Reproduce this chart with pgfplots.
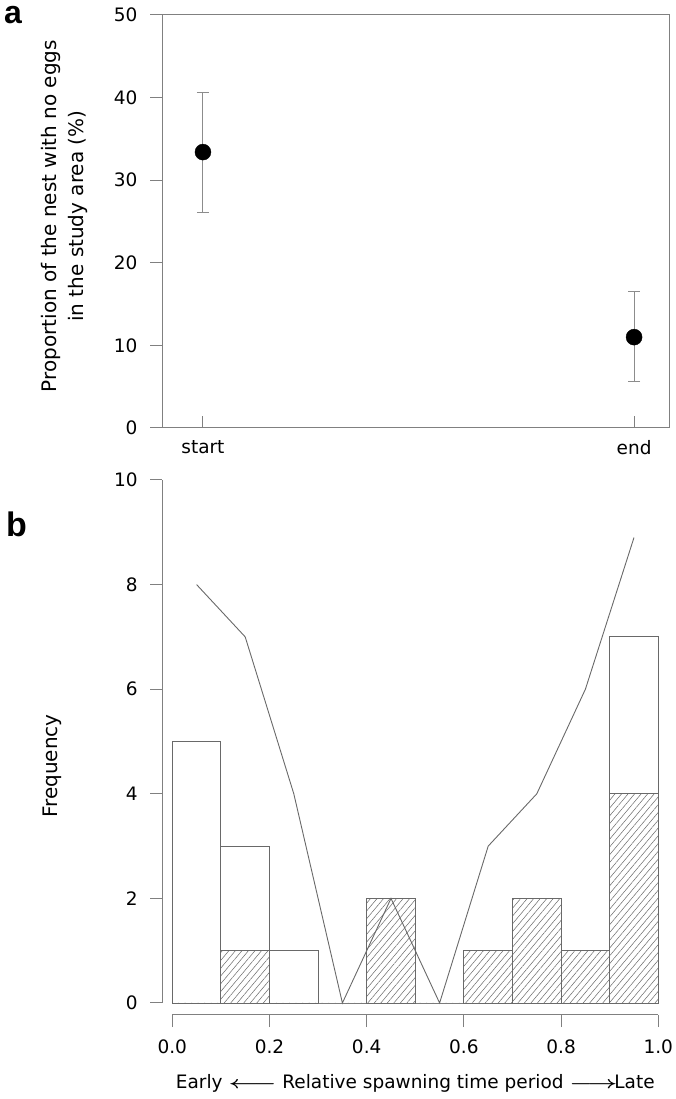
\documentclass[border=0pt]{standalone}
\usepackage{fontspec}
\setmainfont{DejaVu Sans}
\newfontfamily\letfont{Liberation Sans}
\usepackage{pgfplots}
\pgfplotsset{compat=1.18}
\usetikzlibrary{patterns.meta}
\definecolor{ax}{RGB}{128,128,128}
\definecolor{barc}{RGB}{105,105,105}
\definecolor{errc}{RGB}{140,140,140}
\begin{document}
\begin{tikzpicture}
\path[use as bounding box] (0pt,0pt) rectangle (675pt,1099pt);
\pgfplotsset{
 every axis/.append style={
  scale only axis,
  /pgf/number format/assume math mode=true,
  tick label style={font=\fontsize{18.5}{22}\selectfont, black},
  yticklabel style={xshift=-9pt},
  label style={font=\fontsize{20}{27}\selectfont},
  major tick length=12pt,
  tick style={ax, line width=1pt},
  axis line style={ax, line width=1pt},
 }
}
% ---------- panel a ----------
\begin{axis}[at={(162pt,671pt)}, anchor=south west, width=507pt, height=413pt,
 xmin=0.905, xmax=2.081, ymin=0, ymax=50,
 xtick={1,2}, xticklabels={start,end}, ytick={0,10,20,30,40,50},
 tick align=outside, xtick pos=bottom, ytick pos=left,
 xtick style={yshift=12pt},
 xticklabel style={yshift=3pt},
 ylabel={Proportion of the nest with no eggs\\in the study area (\%)},
 ylabel style={align=center, at={(axis description cs:-0.193,0.513)}, anchor=center},
]
\addplot[only marks, mark=*, mark size=8pt, black,
  error bars/.cd, y dir=both, y explicit,
  error bar style={errc, line width=1pt},
  error mark options={errc, rotate=90, mark size=6pt, line width=1pt}]
 table[x=x, y=y, y error plus=ep, y error minus=em] {
x y ep em
1 33.4 7.2 7.3
2 11.0 5.5 5.4
};
\end{axis}
% ---------- panel b ----------
\begin{axis}[at={(172.3pt,96pt)}, anchor=south west, width=486pt, height=523pt,
 xmin=0, xmax=1, ymin=0, ymax=10, clip=false,
 axis x line*=bottom, axis y line*=left,
 axis x line shift=12pt, axis y line shift=10pt,
 tick align=outside,
 xtick={0,0.2,0.4,0.6,0.8,1}, ytick={0,2,4,6,8,10},
 xticklabel style={yshift=-9pt, /pgf/number format/.cd, fixed, fixed zerofill, precision=1},
 xlabel={Early\ \scalebox{1.5}[1]{\boldmath$\longleftarrow$} Relative spawning time period \scalebox{1.5}[1]{\boldmath$\longrightarrow$}\!Late},
 xlabel style={font=\fontsize{18.5}{22}\selectfont, at={(axis description cs:0.5,-0.153)}, anchor=center},
 ylabel={Frequency},
 ylabel style={at={(axis description cs:-0.247,0.453)}, anchor=center},
]
\addplot[ybar interval, draw=barc, fill=white, line width=0.9pt] coordinates {
(0,5) (0.1,3) (0.2,1) (0.3,0) (0.4,2) (0.5,0) (0.6,1) (0.7,2) (0.8,1) (0.9,7) (1.0,7)};
\addplot[ybar interval, draw=barc, line width=0.9pt,
  pattern={Lines[angle=50, distance=5pt, line width=0.5pt]}, pattern color=barc] coordinates {
(0,0) (0.1,1) (0.2,0) (0.3,0) (0.4,2) (0.5,0) (0.6,1) (0.7,2) (0.8,1) (0.9,4) (1.0,4)};
\addplot[barc, line width=0.9pt] coordinates {
(0.05,8) (0.15,7) (0.25,4) (0.35,0) (0.45,2) (0.55,0) (0.65,3) (0.75,4) (0.85,6) (0.95,8.9)};
\end{axis}
\node[font=\letfont\fontsize{32}{32}\bfseries\selectfont, anchor=base west, inner sep=0pt] at (4pt,1075pt) {a};
\node[font=\letfont\fontsize{34}{34}\bfseries\selectfont, anchor=base west, inner sep=0pt] at (6pt,562pt) {b};
\end{tikzpicture}
\end{document}
